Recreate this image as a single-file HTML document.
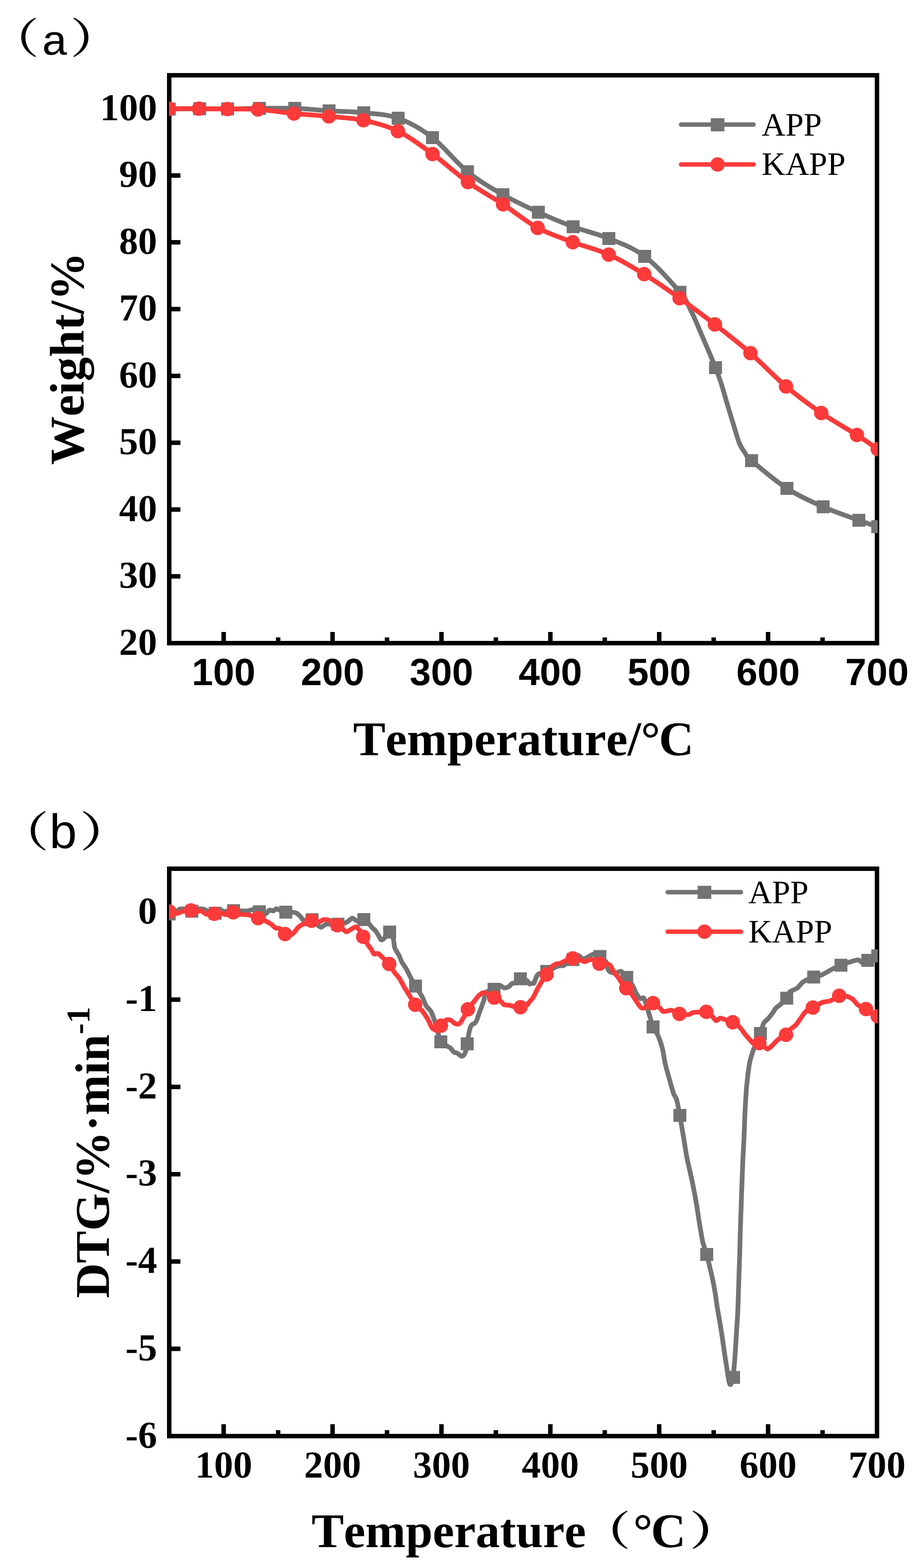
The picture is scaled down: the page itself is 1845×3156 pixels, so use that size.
<!DOCTYPE html>
<html lang="en"><head><meta charset="utf-8"><title>TG and DTG curves of APP and KAPP</title>
<style>html,body{margin:0;padding:0;background:#fff}body{width:1845px;height:3156px;overflow:hidden}svg{display:block}text{fill:#000;font-kerning:none;font-variant-ligatures:none;text-rendering:geometricPrecision}.tb{font-family:"Liberation Serif","Noto Serif CJK SC",serif;font-weight:bold}.tr{font-family:"Liberation Serif","Noto Serif CJK SC",serif;font-weight:normal}.ab{font-family:"Liberation Sans","Noto Sans CJK SC",sans-serif;font-weight:bold}.cjb{font-family:"Noto Serif CJK SC","Liberation Serif",serif;font-weight:bold}.cjsb{font-family:"Noto Serif CJK SC","Liberation Serif",serif;font-weight:600}.mono{font-family:"Liberation Mono",monospace;font-weight:normal}</style></head><body>
<svg width="1845" height="3156" viewBox="0 0 1845 3156">
<rect x="0" y="0" width="1845" height="3156" fill="#fff"/>
<defs><clipPath id="ca"><rect x="340" y="140" width="1426" height="1160"/></clipPath><clipPath id="cb"><rect x="340" y="1740" width="1426" height="1160"/></clipPath></defs>
<g id="panel-a">
<rect x="340.5" y="151.5" width="1424.0" height="1143.0" fill="none" stroke="#000" stroke-width="9"/>
<rect x="445.5" y="1272" width="9" height="19"/><rect x="664.6" y="1272" width="9" height="19"/><rect x="883.7" y="1272" width="9" height="19"/><rect x="1102.8" y="1272" width="9" height="19"/><rect x="1321.8" y="1272" width="9" height="19"/><rect x="1540.9" y="1272" width="9" height="19"/><rect x="555.1" y="1283" width="9" height="8"/><rect x="774.2" y="1283" width="9" height="8"/><rect x="993.2" y="1283" width="9" height="8"/><rect x="1212.3" y="1283" width="9" height="8"/><rect x="1431.4" y="1283" width="9" height="8"/><rect x="1650.5" y="1283" width="9" height="8"/>
<rect x="344" y="1155.5" width="19" height="9"/><rect x="344" y="1021.1" width="19" height="9"/><rect x="344" y="886.6" width="19" height="9"/><rect x="344" y="752.1" width="19" height="9"/><rect x="344" y="617.6" width="19" height="9"/><rect x="344" y="483.2" width="19" height="9"/><rect x="344" y="348.7" width="19" height="9"/><rect x="344" y="214.2" width="19" height="9"/>
<text class="tb" x="316.1" y="1317.5" font-size="76.6" text-anchor="end">20</text>
<text class="tb" x="316.1" y="1183" font-size="76.6" text-anchor="end">30</text>
<text class="tb" x="316.1" y="1048.6" font-size="76.6" text-anchor="end">40</text>
<text class="tb" x="316.1" y="914.1" font-size="76.6" text-anchor="end">50</text>
<text class="tb" x="316.1" y="779.6" font-size="76.6" text-anchor="end">60</text>
<text class="tb" x="316.1" y="645.1" font-size="76.6" text-anchor="end">70</text>
<text class="tb" x="316.1" y="510.7" font-size="76.6" text-anchor="end">80</text>
<text class="tb" x="316.1" y="376.2" font-size="76.6" text-anchor="end">90</text>
<text class="tb" x="316.1" y="241.7" font-size="76.6" text-anchor="end">100</text>
<text class="ab" x="450" y="1378.8" font-size="76.6" text-anchor="middle">100</text>
<text class="ab" x="669.1" y="1378.8" font-size="76.6" text-anchor="middle">200</text>
<text class="ab" x="888.2" y="1378.8" font-size="76.6" text-anchor="middle">300</text>
<text class="ab" x="1107.3" y="1378.8" font-size="76.6" text-anchor="middle">400</text>
<text class="ab" x="1326.3" y="1378.8" font-size="76.6" text-anchor="middle">500</text>
<text class="ab" x="1545.4" y="1378.8" font-size="76.6" text-anchor="middle">600</text>
<text class="ab" x="1764.5" y="1378.8" font-size="76.6" text-anchor="middle">700</text>
<text class="tb" font-size="97.5" text-anchor="middle" transform="translate(167.9 721.5) rotate(-90)">Weight/%</text>
<text class="tb" x="710.5" y="1520.4" font-size="97.5">Temperature/<tspan x="1289.5">°</tspan><tspan x="1325.5">C</tspan></text>
<text class="cjsb" font-size="100" transform="translate(-22.02 106.55) scale(1.0034 0.8394)">（</text>
<text class="mono" font-size="100" transform="translate(82.98 109.65) scale(0.9100 0.8473)">a</text>
<text class="cjsb" font-size="100" transform="translate(141.28 106.55) scale(1.0373 0.8394)">）</text>
<g clip-path="url(#ca)">
<path d="M340.5 219.5C350.7 219.4 382.2 218.9 401.8 218.9C421.4 218.9 438 219.4 458 219.3C478 219.2 499.5 218.3 522 218.1C544.5 217.9 569.6 217.3 593 218.1C616.4 218.9 639 221.6 662.1 223.1C685.2 224.6 708.7 224.5 731.9 227C755.1 229.5 778 229.6 801.1 237.9C824.2 246.2 847 259.1 870.2 277C893.4 294.9 916.9 326.4 940.5 345.5C964.1 364.6 988.1 378.3 1011.9 391.9C1035.7 405.5 1059.7 416.4 1083.2 427.2C1106.8 437.9 1129.6 447.6 1153.2 456.4C1176.8 465.2 1201 470.2 1225 480.1C1249 490 1273.3 498 1297.1 516C1320.9 534 1352.2 569.5 1368 588.3C1383.8 607.1 1384.2 613.6 1391.8 628.7C1399.4 643.8 1405.7 660.2 1413.7 678.7C1421.7 697.2 1433.3 724.4 1439.6 740C1445.8 755.6 1446.9 759.1 1451.2 772.4C1455.5 785.7 1460.9 805.7 1465.2 820C1469.5 834.3 1473 845.9 1476.8 858C1480.5 870.1 1484 883.5 1487.7 892.4C1491.4 901.3 1494.6 905.4 1498.7 911.2C1502.8 917 1498 915.2 1512.1 927.2C1526.2 939.2 1559.3 967.5 1583.3 983C1607.3 998.5 1632.1 1009.4 1656.2 1020.1C1680.3 1030.8 1709.7 1040.5 1728 1047.2C1746.3 1053.9 1759.7 1057.9 1766 1060" fill="none" stroke="#737373" stroke-width="9.5" stroke-linejoin="round" stroke-linecap="round"/>
<rect x="327.5" y="206.5" width="26" height="26" fill="#737373"/><rect x="388.8" y="205.9" width="26" height="26" fill="#737373"/><rect x="445" y="206.3" width="26" height="26" fill="#737373"/><rect x="509" y="205.1" width="26" height="26" fill="#737373"/><rect x="580" y="205.1" width="26" height="26" fill="#737373"/><rect x="649.1" y="210.1" width="26" height="26" fill="#737373"/><rect x="718.9" y="214" width="26" height="26" fill="#737373"/><rect x="788.1" y="224.9" width="26" height="26" fill="#737373"/><rect x="857.2" y="264" width="26" height="26" fill="#737373"/><rect x="927.5" y="332.5" width="26" height="26" fill="#737373"/><rect x="998.9" y="378.9" width="26" height="26" fill="#737373"/><rect x="1070.2" y="414.2" width="26" height="26" fill="#737373"/><rect x="1140.2" y="443.4" width="26" height="26" fill="#737373"/><rect x="1212" y="467.1" width="26" height="26" fill="#737373"/><rect x="1284.1" y="503" width="26" height="26" fill="#737373"/><rect x="1355" y="575.3" width="26" height="26" fill="#737373"/><rect x="1426.6" y="727" width="26" height="26" fill="#737373"/><rect x="1499.1" y="914.2" width="26" height="26" fill="#737373"/><rect x="1570.3" y="970" width="26" height="26" fill="#737373"/><rect x="1643.2" y="1007.1" width="26" height="26" fill="#737373"/><rect x="1715" y="1034.2" width="26" height="26" fill="#737373"/><rect x="1753" y="1047" width="26" height="26" fill="#737373"/>
<path d="M340.5 218.7C350.5 218.7 380.8 218.5 400.3 218.7C419.8 218.8 437.6 219.3 457.4 219.6C477.2 219.9 496.6 218.8 518.9 220.3C541.2 221.8 567.6 226.1 591.4 228.4C615.2 230.7 638.3 232 661.6 234.3C684.9 236.6 708.1 237.2 731.3 242.1C754.5 247 777.5 252.7 800.6 264C823.8 275.3 846.7 292.8 870.2 309.9C893.7 327 917.8 349.5 941.4 366.4C965 383.3 988.7 395.8 1012.1 411.2C1035.5 426.6 1058.4 446 1081.8 458.7C1105.2 471.4 1128.6 478.4 1152.4 487.4C1176.2 496.3 1200.9 501.7 1224.8 512.4C1248.7 523.1 1272.2 537.2 1296 551.8C1319.8 566.4 1343.6 583.3 1367.3 600.2C1391 617.1 1414.6 634.7 1438.4 653.1C1462.2 671.5 1486.1 690 1509.9 710.8C1533.7 731.6 1557.7 757.6 1581.4 777.7C1605.1 797.8 1628.5 814.9 1652.3 831.2C1676.1 847.5 1705.1 863.5 1724.1 875.6C1743 887.7 1759 899.3 1766 904" fill="none" stroke="#fc3a3a" stroke-width="9.5" stroke-linejoin="round" stroke-linecap="round"/>
<circle cx="340.5" cy="218.7" r="14.5" fill="#fc3a3a"/><circle cx="400.3" cy="218.7" r="14.5" fill="#fc3a3a"/><circle cx="457.4" cy="219.6" r="14.5" fill="#fc3a3a"/><circle cx="518.9" cy="220.3" r="14.5" fill="#fc3a3a"/><circle cx="591.4" cy="228.4" r="14.5" fill="#fc3a3a"/><circle cx="661.6" cy="234.3" r="14.5" fill="#fc3a3a"/><circle cx="731.3" cy="242.1" r="14.5" fill="#fc3a3a"/><circle cx="800.6" cy="264" r="14.5" fill="#fc3a3a"/><circle cx="870.2" cy="309.9" r="14.5" fill="#fc3a3a"/><circle cx="941.4" cy="366.4" r="14.5" fill="#fc3a3a"/><circle cx="1012.1" cy="411.2" r="14.5" fill="#fc3a3a"/><circle cx="1081.8" cy="458.7" r="14.5" fill="#fc3a3a"/><circle cx="1152.4" cy="487.4" r="14.5" fill="#fc3a3a"/><circle cx="1224.8" cy="512.4" r="14.5" fill="#fc3a3a"/><circle cx="1296" cy="551.8" r="14.5" fill="#fc3a3a"/><circle cx="1367.3" cy="600.2" r="14.5" fill="#fc3a3a"/><circle cx="1438.4" cy="653.1" r="14.5" fill="#fc3a3a"/><circle cx="1509.9" cy="710.8" r="14.5" fill="#fc3a3a"/><circle cx="1581.4" cy="777.7" r="14.5" fill="#fc3a3a"/><circle cx="1652.3" cy="831.2" r="14.5" fill="#fc3a3a"/><circle cx="1724.1" cy="875.6" r="14.5" fill="#fc3a3a"/><circle cx="1766" cy="904" r="14.5" fill="#fc3a3a"/>
</g>
<line x1="1370.3" y1="250.8" x2="1516.1" y2="250.8" stroke="#737373" stroke-width="9" stroke-linecap="round"/><rect x="1430.1" y="238" width="27.4" height="26.4" fill="#737373"/><line x1="1370.3" y1="331.1" x2="1516.1" y2="331.1" stroke="#fc3a3a" stroke-width="9" stroke-linecap="round"/><circle cx="1443.8" cy="331.1" r="14.5" fill="#fc3a3a"/><text class="tr" x="1532.5" y="273" font-size="66">APP</text><text class="tr" x="1532.5" y="352.2" font-size="66">KAPP</text>
</g>
<g id="panel-b">
<rect x="340.5" y="1748.5" width="1424.0" height="1142.0" fill="none" stroke="#000" stroke-width="9"/>
<rect x="445.5" y="2866.5" width="9" height="20.5"/><rect x="664.6" y="2866.5" width="9" height="20.5"/><rect x="883.7" y="2866.5" width="9" height="20.5"/><rect x="1102.8" y="2866.5" width="9" height="20.5"/><rect x="1321.8" y="2866.5" width="9" height="20.5"/><rect x="1540.9" y="2866.5" width="9" height="20.5"/><rect x="555.1" y="2878.5" width="9" height="8.5"/><rect x="774.2" y="2878.5" width="9" height="8.5"/><rect x="993.2" y="2878.5" width="9" height="8.5"/><rect x="1212.3" y="2878.5" width="9" height="8.5"/><rect x="1431.4" y="2878.5" width="9" height="8.5"/><rect x="1650.5" y="2878.5" width="9" height="8.5"/>
<rect x="344" y="2710.3" width="19" height="9"/><rect x="344" y="2534.6" width="19" height="9"/><rect x="344" y="2358.9" width="19" height="9"/><rect x="344" y="2183.2" width="19" height="9"/><rect x="344" y="2007.5" width="19" height="9"/><rect x="344" y="1831.8" width="19" height="9"/>
<text class="tb" x="316.1" y="2913.5" font-size="76.6" text-anchor="end">-6</text>
<text class="tb" x="316.1" y="2737.8" font-size="76.6" text-anchor="end">-5</text>
<text class="tb" x="316.1" y="2562.1" font-size="76.6" text-anchor="end">-4</text>
<text class="tb" x="316.1" y="2386.4" font-size="76.6" text-anchor="end">-3</text>
<text class="tb" x="316.1" y="2210.7" font-size="76.6" text-anchor="end">-2</text>
<text class="tb" x="316.1" y="2035" font-size="76.6" text-anchor="end">-1</text>
<text class="tb" x="316.1" y="1859.3" font-size="76.6" text-anchor="end">0</text>
<text class="tb" x="450" y="2973.8" font-size="76.6" text-anchor="middle">100</text>
<text class="tb" x="669.1" y="2973.8" font-size="76.6" text-anchor="middle">200</text>
<text class="tb" x="888.2" y="2973.8" font-size="76.6" text-anchor="middle">300</text>
<text class="tb" x="1107.3" y="2973.8" font-size="76.6" text-anchor="middle">400</text>
<text class="tb" x="1326.3" y="2973.8" font-size="76.6" text-anchor="middle">500</text>
<text class="tb" x="1545.4" y="2973.8" font-size="76.6" text-anchor="middle">600</text>
<text class="tb" x="1764.5" y="2973.8" font-size="76.6" text-anchor="middle">700</text>
<text class="tb" font-size="97.5" text-anchor="middle" transform="translate(219 2319.5) rotate(-90)">DTG/%·min<tspan font-size="67" dy="-39.5">-1</tspan></text>
<text class="tb" x="626.7" y="3114.3" font-size="97.5">Temperature</text>
<text class="cjb" font-size="100" transform="translate(1168.40 3110.17) scale(1.0000 0.8148)">（</text>
<text class="tb" font-size="97.5" y="3114.3"><tspan x="1274">°</tspan><tspan x="1309.5">C</tspan></text>
<text class="cjb" font-size="100" transform="translate(1387.22 3110.17) scale(1.0467 0.8148)">）</text>
<text class="cjsb" font-size="100" transform="translate(-4.13 1703.65) scale(1.0237 0.8394)">（</text>
<text class="mono" font-size="100" transform="translate(96.96 1707.13) scale(1.0045 0.9714)">b</text>
<text class="cjsb" font-size="100" transform="translate(160.55 1703.65) scale(1.0576 0.8394)">）</text>
<g clip-path="url(#cb)">
<path d="M336.9 1841.1C338.9 1840.5 351.1 1837.3 353.8 1836C356.6 1834.7 358.6 1831.1 360.5 1830.3C362.5 1829.5 367.8 1829.1 370.7 1829.5C373.7 1829.8 382.7 1833.4 386 1833.4C389.3 1833.4 396.5 1829.9 399.2 1829.5C402 1829.1 407.3 1829.4 409.4 1829.9C411.6 1830.3 414.8 1832.4 417.6 1833.4C420.3 1834.3 429.7 1838.1 433.1 1838C436.4 1838 443.9 1833.4 446.1 1833C448.3 1832.5 449.4 1834.6 452.2 1834.6C455 1834.6 466.2 1833.1 469.7 1833C473.3 1832.8 479.3 1833.3 482.7 1833.4C486.2 1833.4 496 1833.7 499 1833.4C502.1 1833 506.6 1830.4 509.2 1830.5C511.9 1830.7 518.9 1833.6 521.9 1834.6C524.8 1835.6 532.6 1839.4 534.9 1839.1C537.2 1838.8 540.1 1832.6 541.8 1831.9C543.6 1831.3 548.3 1833.7 550 1833.4C551.6 1833 554.6 1829 556.1 1828.9C557.5 1828.7 560 1831.1 562.2 1831.9C564.4 1832.8 572 1835.5 575 1836C578 1836.5 585.5 1835.8 588 1836C590.6 1836.2 594.8 1837 596.8 1838C598.8 1839.1 603 1843.2 604.9 1845.2C606.8 1847.2 610.4 1854.7 613.1 1855.4C615.8 1856 624.7 1850 627.9 1850.9C631.1 1851.8 638.4 1861.4 640.5 1863.1C642.7 1864.9 644.8 1866.5 646.7 1866.2C648.6 1865.8 653 1860.8 656.8 1860.1C660.7 1859.4 675.7 1860.5 679.9 1860.3C684.1 1860 690.6 1858.7 692.9 1858C695.2 1857.4 697.8 1856.2 699.6 1855C701.5 1853.8 706.5 1848 708.8 1847.9C711.1 1847.7 716.5 1853.6 719.2 1854C721.9 1854.3 729.3 1850.3 732 1850.9C734.7 1851.5 740.5 1857.2 742.4 1859.1C744.3 1861 747.1 1865.7 748.5 1867.2C749.9 1868.8 753.2 1870.6 754.6 1872.3C756 1874 759.3 1879.2 760.7 1881.5C762.1 1883.7 765.4 1890.8 766.8 1891.6C768.2 1892.5 770.9 1890.4 772.9 1888.6C774.9 1886.8 781.8 1875.8 783.9 1876C786.1 1876.1 790.1 1885.9 791.3 1889.6C792.5 1893.3 792.9 1903.9 794.3 1907.9C795.7 1912 801.8 1920.9 803.5 1924.2C805.1 1927.6 806.9 1933.4 808.6 1936.5C810.2 1939.5 815.7 1947.1 817.7 1950.7C819.8 1954.3 823.7 1963 825.9 1967C828 1971 833.3 1980.4 836.1 1984.9C838.8 1989.5 846.8 2001.3 849.2 2005.9C851.7 2010.5 855.3 2020.7 857.4 2024.2C859.5 2027.8 865.4 2032.4 867.6 2036.5C869.7 2040.5 874.2 2054.1 875.7 2058.9C877.3 2063.6 879.4 2072.6 880.7 2077C882 2081.5 884.8 2093.5 887 2096.8C889.2 2100.2 897.5 2104.1 899.7 2105.5C902 2107 904.9 2108.2 906.5 2109.6C908.1 2111 911.7 2116.6 913.3 2117.8C914.9 2118.9 918.4 2118.8 920.1 2119.8C921.9 2120.7 926.7 2125.5 928.3 2125.9C929.8 2126.3 932.6 2124.6 933.7 2123.2C934.8 2121.8 937 2116.3 937.8 2113.7C938.5 2111.1 939.1 2105.5 939.9 2100.9C940.7 2096.3 943.5 2078.7 944.5 2074.3C945.6 2069.9 947.4 2065.2 948.6 2063.4C949.9 2061.7 954.1 2060.6 955.4 2059.4C956.7 2058.1 958.5 2054.8 959.5 2052.6C960.4 2050.4 962.5 2043.2 963.6 2040.4C964.6 2037.5 967.4 2030.5 968.3 2028.1C969.2 2025.8 970.4 2021.6 971 2020C971.6 2018.4 972.7 2016.6 973.5 2014.1C974.2 2011.5 975.2 2000.6 977.6 1997.8C979.9 1994.9 990.5 1991.3 993.8 1989.6C997.2 1987.9 1003.7 1983.6 1006.1 1983.5C1008.4 1983.4 1012.1 1988.4 1014.2 1988.6C1016.4 1988.8 1022.5 1986.6 1024.4 1985.5C1026.3 1984.5 1027.9 1980.4 1030.5 1979.4C1033.1 1978.5 1043.6 1978.1 1047 1977.4C1050.4 1976.7 1057.7 1973 1059.8 1973.3C1062 1973.7 1063.6 1979.9 1065.1 1980.4C1066.7 1981 1072.2 1978.6 1073.3 1978.4C1074.4 1978.2 1073.8 1980.2 1074.6 1978.4C1075.5 1976.6 1079.3 1965.4 1080.7 1963.1C1082.2 1960.9 1085 1959.8 1087.3 1959.1C1089.5 1958.4 1097.1 1958.2 1100.1 1957C1103.1 1955.8 1109.9 1950.4 1112.9 1948.9C1115.9 1947.3 1123.1 1944.4 1125.5 1943.8C1128 1943.2 1132 1944.4 1133.7 1943.8C1135.4 1943.2 1137.9 1940.1 1140.2 1938.7C1142.5 1937.3 1150 1933.2 1153 1931.6C1156 1929.9 1163.6 1924.6 1165.9 1924.4C1168.1 1924.3 1170.4 1930.3 1172.4 1930.5C1174.3 1930.8 1180 1927.7 1182.6 1926.5C1185.1 1925.3 1191.3 1920.5 1194.2 1920.4C1197 1920.2 1204 1923.6 1207 1925.5C1210 1927.4 1217.9 1933.7 1219.8 1936.7C1221.7 1939.6 1222.2 1948.5 1223.3 1950.9C1224.4 1953.3 1227.5 1956.2 1229.4 1957C1231.3 1957.9 1237.2 1958.3 1239.6 1958C1242 1957.8 1247.3 1953.9 1249.8 1955C1252.3 1956.1 1258.2 1963.6 1261 1967.2C1263.8 1970.8 1271.6 1981.7 1273.8 1985.5C1276.1 1989.3 1278.6 1996.9 1280.3 1999.8C1282 2002.6 1286.7 2008.9 1288.5 2010C1290.3 2011 1293.9 2006.6 1295.6 2009C1297.3 2011.3 1301.2 2025.5 1302.7 2030.3C1304.3 2035.2 1307.5 2046.4 1308.8 2050.7C1310.2 2055 1312.3 2062.9 1314.1 2067C1316 2071.1 1322.4 2080.8 1324.6 2085.9C1326.8 2091 1331.2 2104 1332.8 2110.3C1334.4 2116.6 1336.6 2132.8 1338.2 2140C1339.8 2147.2 1344.8 2164.7 1346.8 2171.8C1348.8 2178.9 1353.6 2196.3 1355.3 2201.1C1357 2205.9 1359.9 2208.2 1361.4 2213.3C1362.9 2218.4 1366.2 2236.5 1367.8 2245.1C1369.4 2253.7 1373.2 2276.6 1374.9 2286.6C1376.6 2296.6 1380.2 2320.3 1382.2 2330.6C1384.2 2340.9 1389.9 2364.3 1392 2374.6C1394.1 2384.9 1398.8 2408.9 1400.5 2418.6C1402.2 2428.3 1405 2448.2 1406.6 2457.7C1408.2 2467.2 1412.2 2492.1 1414 2500C1415.8 2507.9 1420.3 2519 1422 2525C1423.7 2531 1426.9 2545.1 1428.3 2551.3C1429.8 2557.4 1433.1 2571.3 1434.4 2577.8C1435.7 2584.2 1438.4 2599.6 1439.5 2606.3C1440.6 2612.9 1442.5 2628.1 1443.6 2634.8C1444.7 2641.4 1447.6 2656.6 1448.7 2663.3C1449.8 2670 1452.1 2684.7 1453.2 2691.8C1454.2 2698.9 1456.8 2717.5 1457.8 2724.4C1458.9 2731.3 1461 2745.2 1461.9 2750.9C1462.8 2756.6 1464.7 2769.5 1465.4 2773.3C1466 2777.1 1466.9 2781.8 1467.4 2783.5C1467.9 2785.1 1469 2787.1 1469.5 2787.1C1469.9 2787.1 1471.1 2785.1 1471.5 2783.5C1471.9 2781.8 1472.6 2775.9 1473.1 2773.3C1473.6 2770.7 1475.3 2766.8 1476 2761.1C1476.7 2755.4 1478.6 2733.4 1479.2 2724.4C1479.9 2715.4 1481.1 2693.2 1481.7 2683.7C1482.3 2674.2 1483.8 2652.4 1484.3 2642.9C1484.8 2633.4 1485.4 2611.7 1485.7 2602.2C1486.1 2592.7 1486.7 2571 1487 2561.5C1487.3 2552 1488.1 2530.2 1488.4 2520.7C1488.7 2511.2 1489.1 2490.2 1489.4 2480C1489.7 2469.8 1490.6 2444.5 1491 2433.3C1491.4 2422.1 1492.3 2395.8 1492.7 2384.4C1493.1 2373 1494.1 2346.9 1494.6 2335.5C1495.1 2324.1 1496.6 2298 1497.1 2286.6C1497.6 2275.2 1498.4 2249.2 1499 2237.8C1499.6 2226.4 1500.9 2200.3 1502 2188.9C1503.1 2177.5 1506.5 2148.9 1508.1 2140C1509.7 2131.1 1514.2 2117.8 1516.1 2112.4C1518 2107 1522.6 2097.8 1524.2 2094C1525.8 2090.2 1528.5 2084.1 1529.9 2080C1531.4 2075.9 1534.7 2062.8 1536.7 2059.2C1538.6 2055.6 1544.6 2051.7 1546.8 2049C1549.1 2046.4 1554.3 2039.2 1556 2036.8C1557.7 2034.4 1559.6 2030.3 1561.1 2028.7C1562.6 2027 1566.7 2024.8 1569.2 2022.6C1571.8 2020.3 1580.3 2012.2 1582.7 2009.1C1585.1 2006 1587.1 1998.4 1589.6 1996.1C1592.1 1993.7 1601 1991.1 1603.9 1989C1606.7 1986.8 1611.7 1979.8 1614.1 1977.8C1616.4 1975.7 1621.6 1973 1624.2 1971.6C1626.9 1970.3 1633.7 1967.4 1637.1 1966.4C1640.4 1965.3 1648.3 1964.4 1652.7 1962.5C1657.2 1960.6 1670.6 1952.6 1675.2 1950.3C1679.7 1948 1688.1 1944.3 1691.9 1942.7C1695.7 1941.2 1703.7 1938.3 1707.7 1937C1711.7 1935.8 1723 1931.9 1726.1 1931.9C1729.2 1931.9 1731.9 1936.9 1734.2 1937C1736.5 1937.1 1743.6 1934 1745.8 1933C1748 1931.9 1750.7 1928.9 1753.2 1927.9C1755.6 1926.8 1765.2 1924.4 1766.8 1924" fill="none" stroke="#737373" stroke-width="9.5" stroke-linejoin="round" stroke-linecap="round"/>
<rect x="327.5" y="1826.5" width="26" height="26" fill="#737373"/><rect x="373" y="1821" width="26" height="26" fill="#737373"/><rect x="420" y="1825" width="26" height="26" fill="#737373"/><rect x="457" y="1820" width="26" height="26" fill="#737373"/><rect x="508.9" y="1822.1" width="26" height="26" fill="#737373"/><rect x="562" y="1822.9" width="26" height="26" fill="#737373"/><rect x="615" y="1838.2" width="26" height="26" fill="#737373"/><rect x="667" y="1847.2" width="26" height="26" fill="#737373"/><rect x="719" y="1837.9" width="26" height="26" fill="#737373"/><rect x="771" y="1863" width="26" height="26" fill="#737373"/><rect x="823.1" y="1971.7" width="26" height="26" fill="#737373"/><rect x="874" y="2084" width="26" height="26" fill="#737373"/><rect x="927" y="2088" width="26" height="26" fill="#737373"/><rect x="981" y="1978.2" width="26" height="26" fill="#737373"/><rect x="1034" y="1957.1" width="26" height="26" fill="#737373"/><rect x="1087.1" y="1942.2" width="26" height="26" fill="#737373"/><rect x="1140" y="1918.4" width="26" height="26" fill="#737373"/><rect x="1194" y="1912.2" width="26" height="26" fill="#737373"/><rect x="1248" y="1954.2" width="26" height="26" fill="#737373"/><rect x="1301" y="2054" width="26" height="26" fill="#737373"/><rect x="1354.9" y="2232" width="26" height="26" fill="#737373"/><rect x="1409" y="2512" width="26" height="26" fill="#737373"/><rect x="1463" y="2759.5" width="26" height="26" fill="#737373"/><rect x="1517" y="2067.1" width="26" height="26" fill="#737373"/><rect x="1569.9" y="1996.1" width="26" height="26" fill="#737373"/><rect x="1624.2" y="1953.5" width="26" height="26" fill="#737373"/><rect x="1679" y="1929.7" width="26" height="26" fill="#737373"/><rect x="1732.8" y="1920" width="26" height="26" fill="#737373"/><rect x="1753" y="1911" width="26" height="26" fill="#737373"/>
<path d="M336.9 1834.6C338.7 1835.1 349.6 1838.8 352.4 1839.1C355.2 1839.3 358.4 1837.7 360.5 1837C362.7 1836.4 368 1833.9 370.7 1833.4C373.5 1832.8 380.6 1832.5 384 1832.5C387.3 1832.6 396.8 1833.9 399.2 1834C401.7 1834.1 403.5 1832.6 405.4 1833.4C407.3 1834.1 412.5 1839.4 415.5 1840.1C418.6 1840.7 427.9 1839.3 431.2 1839.1C434.5 1838.8 441.1 1837.8 444.1 1838C447 1838.3 453.4 1841.3 456.3 1841.1C459.2 1840.9 466 1836.5 469.1 1836.4C472.2 1836.3 479.5 1839.5 482.7 1840.1C486 1840.6 494.2 1840.7 497 1841.1C499.9 1841.5 504.6 1842.3 507.2 1843.1C509.8 1844 516.3 1847 519.4 1848.2C522.5 1849.4 530.6 1851.9 533.7 1853.3C536.8 1854.7 543.5 1858.8 545.9 1860.4C548.3 1862.1 551.9 1866.5 554 1867.6C556.2 1868.6 562 1868.1 564.2 1869.6C566.5 1871.1 571 1878.8 573.4 1880.2C575.8 1881.6 582.3 1882.4 584.6 1881.8C586.8 1881.3 591.1 1877.4 592.7 1875.7C594.4 1874.1 597.2 1869.2 598.8 1867.6C600.5 1865.9 605.1 1862.5 607 1861.5C608.9 1860.4 612.8 1859.4 615.1 1858.4C617.4 1857.5 623.7 1853.6 626.7 1853.4C629.7 1853.1 637.7 1856.2 640.5 1856C643.4 1855.8 648.1 1851.7 650.7 1851.3C653.3 1850.9 659.7 1851.2 663 1852.5C666.2 1853.9 675.5 1860.5 678.8 1862.7C682.2 1864.9 689.3 1869.8 691.5 1871.3C693.7 1872.8 694.7 1876 697.6 1875.4C700.4 1874.7 712.8 1865.8 715.9 1865.6C719 1865.3 722.3 1871 724.1 1873.3C725.8 1875.6 728.7 1882.2 730.6 1885.5C732.5 1888.9 738.5 1899 740.3 1901.8C742.2 1904.7 745 1907.8 746.5 1910C747.9 1912.1 750.9 1919.1 752.6 1920.2C754.2 1921.2 758.3 1918 760.7 1919.1C763.1 1920.3 770.3 1927.9 772.9 1930.3C775.5 1932.8 780.7 1937 783.1 1940.1C785.5 1943.2 790.9 1953.4 793.3 1956.8C795.7 1960.2 801.1 1965.5 803.5 1969C805.9 1972.6 811.4 1983.5 813.7 1987.4C815.9 1991.2 820.2 1997.8 822.8 2001.8C825.3 2005.9 832.3 2018.4 835.4 2022.2C838.5 2026 846.2 2030.9 849.2 2034.4C852.3 2038 859.1 2048.7 861.5 2052.7C863.8 2056.8 867.4 2066.5 869.6 2069C871.9 2071.6 878.7 2074.9 880.7 2074.3C882.8 2073.7 885.1 2066.6 887 2064.1C888.9 2061.7 894.7 2054.5 897 2053.3C899.3 2052 904.6 2052.6 906.5 2053.3C908.4 2053.9 911.9 2057.7 913.3 2058.7C914.7 2059.6 917.3 2061.3 918.8 2061.4C920.2 2061.5 924 2060.9 925.5 2059.4C927.1 2057.9 930.9 2050.7 932.3 2048.5C933.8 2046.3 936.7 2042.3 937.8 2040.4C938.8 2038.4 939.5 2034.6 941.6 2031.5C943.6 2028.5 952.6 2017.3 955.2 2014.1C957.7 2010.8 961.2 2005.8 963.3 2003.9C965.4 2002 971.1 1998 973.5 1997.8C975.9 1997.5 981.2 2000.6 983.7 2001.8C986.1 2003 991.6 2006.5 994.3 2007.9C996.9 2009.4 1003.7 2012.4 1006.1 2014.1C1008.4 2015.7 1012.1 2021.1 1014.2 2022.2C1016.4 2023.3 1022 2022.7 1024.4 2023.2C1026.8 2023.7 1031.9 2025.8 1034.6 2026.3C1037.2 2026.7 1044.1 2027.8 1047.2 2027.3C1050.3 2026.8 1059.5 2022.8 1061.1 2022.2C1062.6 2021.6 1059 2023.9 1060.4 2022.2C1061.7 2020.5 1070.2 2011.5 1072.6 2007.9C1075 2004.4 1078.8 1995.2 1080.7 1991.6C1082.6 1988.1 1086.7 1980.9 1088.9 1977.4C1091.1 1973.9 1097.1 1965.1 1099.5 1961.5C1101.8 1957.9 1107.2 1949.3 1109.2 1946.8C1111.3 1944.4 1115.3 1941.7 1117.4 1940.7C1119.5 1939.8 1125.2 1939.5 1127.6 1938.7C1130 1937.9 1134.9 1934.7 1137.8 1933.6C1140.7 1932.5 1149.1 1929.2 1152.4 1928.9C1155.8 1928.7 1163.5 1930.8 1166.3 1931.6C1169.1 1932.4 1174.1 1935.6 1176.5 1935.6C1178.8 1935.6 1184.5 1931.9 1186.6 1931.6C1188.8 1931.2 1192.5 1931.6 1194.8 1932.6C1197 1933.5 1203.4 1938.9 1206 1939.7C1208.6 1940.5 1214.7 1939.4 1217.2 1939.7C1219.7 1940.1 1225.2 1940.8 1227.4 1942.8C1229.5 1944.8 1233.6 1954.2 1235.5 1957C1237.4 1959.9 1241.8 1964.6 1243.7 1967.2C1245.6 1969.8 1249.9 1976.9 1251.8 1979.4C1253.7 1982 1257.8 1986.6 1260 1989C1262.1 1991.4 1268 1997.1 1270.1 1999.8C1272.3 2002.5 1276.4 2009.2 1278.3 2012C1280.2 2014.9 1284.8 2022.2 1286.4 2024.2C1288.1 2026.3 1290.6 2029.1 1292.5 2029.3C1294.4 2029.6 1300.2 2027.5 1302.7 2026.3C1305.2 2025.1 1311 2018.9 1313.8 2019.1C1316.6 2019.3 1324.2 2025.9 1326.7 2027.9C1329.1 2029.8 1332 2035.4 1334.8 2036C1337.7 2036.6 1347.3 2032.8 1351.1 2033.4C1354.9 2033.9 1362.9 2039.7 1367 2040.7C1371 2041.7 1382.6 2042.4 1385.7 2042.1C1388.9 2041.8 1391.5 2038.6 1393.9 2038C1396.2 2037.5 1402.9 2037.2 1406.1 2037C1409.2 2036.9 1417.9 2035.7 1421 2036.6C1424 2037.6 1430.3 2043.1 1432.6 2045.2C1434.9 2047.2 1438.8 2053.9 1440.7 2054.3C1442.6 2054.8 1446.7 2049.5 1448.9 2049.2C1451 2049 1456.1 2051.4 1459 2052.3C1462 2053.3 1471 2055.7 1474.3 2057.4C1477.6 2059.1 1484.8 2063.9 1487.6 2066.6C1490.3 2069.2 1495.4 2076.8 1497.7 2079.8C1500.1 2082.8 1505.8 2089.6 1507.9 2092C1510.1 2094.4 1513.8 2099.3 1516.1 2100.2C1518.4 2101 1524.9 2098.7 1527.5 2099.6C1530.1 2100.4 1536.5 2105.9 1538.5 2107.3C1540.5 2108.7 1542.9 2111.6 1544.6 2111.4C1546.2 2111.1 1550.3 2107.4 1552.7 2105.3C1555.1 2103.1 1561.8 2095.5 1565.2 2092.8C1568.5 2090.2 1578.6 2085 1581.5 2082.6C1584.3 2080.3 1587.2 2074.8 1589.6 2072.5C1592 2070.1 1599 2065.5 1601.8 2062.3C1604.7 2059.1 1611.7 2048.2 1614.1 2045C1616.4 2041.8 1619.7 2036.8 1622.2 2034.8C1624.7 2032.8 1631.6 2030.1 1635.4 2028.1C1639.2 2026 1650.6 2019.1 1654.8 2017.5C1658.9 2015.9 1667.2 2016 1671.1 2014.4C1675 2012.9 1684.6 2005.3 1688.4 2004.2C1692.2 2003.2 1700.5 2004.4 1703.7 2005.3C1706.9 2006.1 1713.3 2009.3 1715.9 2011.4C1718.5 2013.4 1723 2020.3 1726.1 2022.6C1729.2 2024.9 1739 2029 1742.4 2031.1C1745.7 2033.3 1751.7 2039.2 1754.6 2040.9C1757.4 2042.6 1765.4 2044.9 1766.8 2045.4" fill="none" stroke="#fc3a3a" stroke-width="9.5" stroke-linejoin="round" stroke-linecap="round"/>
<circle cx="340.5" cy="1834.8" r="14.5" fill="#fc3a3a"/><circle cx="384.3" cy="1832.6" r="14.5" fill="#fc3a3a"/><circle cx="431.2" cy="1839.2" r="14.5" fill="#fc3a3a"/><circle cx="469.1" cy="1836.3" r="14.5" fill="#fc3a3a"/><circle cx="519.3" cy="1848.1" r="14.5" fill="#fc3a3a"/><circle cx="573.5" cy="1880" r="14.5" fill="#fc3a3a"/><circle cx="626.9" cy="1853.3" r="14.5" fill="#fc3a3a"/><circle cx="678.7" cy="1862.3" r="14.5" fill="#fc3a3a"/><circle cx="730.7" cy="1885.4" r="14.5" fill="#fc3a3a"/><circle cx="783.1" cy="1940.2" r="14.5" fill="#fc3a3a"/><circle cx="835.4" cy="2022.2" r="14.5" fill="#fc3a3a"/><circle cx="887.2" cy="2064.4" r="14.5" fill="#fc3a3a"/><circle cx="941.4" cy="2031.4" r="14.5" fill="#fc3a3a"/><circle cx="994.3" cy="2007.9" r="14.5" fill="#fc3a3a"/><circle cx="1047.1" cy="2027.3" r="14.5" fill="#fc3a3a"/><circle cx="1099.5" cy="1961.5" r="14.5" fill="#fc3a3a"/><circle cx="1152.4" cy="1928.9" r="14.5" fill="#fc3a3a"/><circle cx="1206" cy="1939.7" r="14.5" fill="#fc3a3a"/><circle cx="1260" cy="1989" r="14.5" fill="#fc3a3a"/><circle cx="1313.9" cy="2019.1" r="14.5" fill="#fc3a3a"/><circle cx="1367" cy="2040.7" r="14.5" fill="#fc3a3a"/><circle cx="1421" cy="2036.6" r="14.5" fill="#fc3a3a"/><circle cx="1474.3" cy="2057.4" r="14.5" fill="#fc3a3a"/><circle cx="1527.7" cy="2099.6" r="14.5" fill="#fc3a3a"/><circle cx="1581.4" cy="2082.8" r="14.5" fill="#fc3a3a"/><circle cx="1635.4" cy="2028.1" r="14.5" fill="#fc3a3a"/><circle cx="1688.4" cy="2004.2" r="14.5" fill="#fc3a3a"/><circle cx="1742.4" cy="2031.1" r="14.5" fill="#fc3a3a"/><circle cx="1766" cy="2045.4" r="14.5" fill="#fc3a3a"/>
</g>
<line x1="1343.5" y1="1795.7" x2="1490.7" y2="1795.7" stroke="#737373" stroke-width="9" stroke-linecap="round"/><rect x="1403.7" y="1782.9" width="27.4" height="26.4" fill="#737373"/><line x1="1343.5" y1="1875.2" x2="1490.7" y2="1875.2" stroke="#fc3a3a" stroke-width="9" stroke-linecap="round"/><circle cx="1417.4" cy="1875.2" r="14.5" fill="#fc3a3a"/><text class="tr" x="1505.7" y="1818.1" font-size="66">APP</text><text class="tr" x="1505.7" y="1897.1" font-size="66">KAPP</text>
</g>
</svg></body></html>
